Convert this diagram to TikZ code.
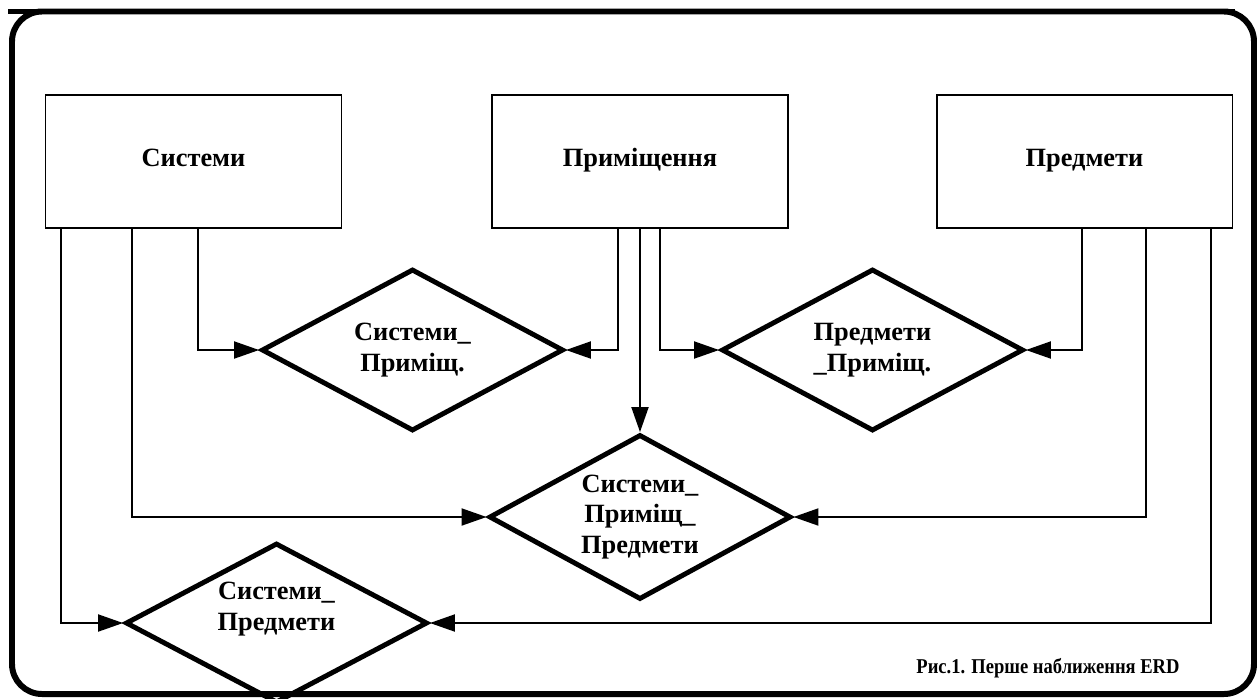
\documentclass[tikz,border=0pt]{standalone}
\usepackage{fontspec}
\setmainfont{Liberation Serif}
\newfontfamily\capfont[FakeStretch=0.88]{Liberation Serif}
\usetikzlibrary{shapes.geometric, arrows.meta}

\begin{document}
\begin{tikzpicture}[x=0.02cm, y=-0.02cm,
    entity/.style={draw, line width=1.1pt, inner sep=0pt,
      minimum width=5.92cm, minimum height=2.66cm,
      text height=10pt, text depth=3.8pt,
      font=\fontsize{15}{17}\selectfont\bfseries},
    rel/.style={draw, diamond, line width=2.8pt, inner sep=0pt,
      minimum width=6.04cm, minimum height=3.24cm},
    reltext/.style={align=center, font=\fontsize{15}{17.5}\selectfont\bfseries},
    conn/.style={line width=1.1pt, -{Triangle[length=0.5cm, width=0.34cm]}},
    frame/.style={line width=3.4pt}]
  %tikz  ERD, first draft
  \clip (0,0) rectangle (1259,698);
  \draw[frame, rounded corners=0.6cm] (12,11.5) rectangle (1254,694);
  \draw[frame] (8,11.5) -- (1235,11.5);

  \node[entity] (sys) at (193.5,161.5) {Системи};
  \node[entity] (room) at (640,161.5) {Приміщення};
  \node[entity] (subj) at (1084.5,161.5) {Предмети};

  \node[rel, label={[reltext]center:Системи\_\\Приміщ.}] (sr) at (412.5,350) {};
  \node[rel, label={[reltext]center:Предмети\\\_Приміщ.}] (pr) at (872.5,350) {};
  \node[rel, minimum height=3.3cm, label={[reltext]center:Системи\_\\Приміщ\_\\Предмети}] (srp) at (640,517) {};
  \node[rel, minimum height=3.2cm, label={[reltext, yshift=0.28cm]center:Системи\_\\Предмети}] (sp) at (276.5,623) {};

  \draw[conn] ([xshift=0.09cm]sys.south) |- (sr.west);
  \draw[conn] ([xshift=-1.23cm]sys.south) |- (srp.west);
  \draw[conn] ([xshift=-2.65cm]sys.south) |- (sp.west);
  \draw[conn] ([xshift=-0.44cm]room.south) |- (sr.east);
  \draw[conn] (room.south) -- (srp.north);
  \draw[conn] ([xshift=0.4cm]room.south) |- (pr.west);
  \draw[conn] ([xshift=-0.05cm]subj.south) |- (pr.east);
  \draw[conn] ([xshift=1.23cm]subj.south) |- (srp.east);
  \draw[conn] ([xshift=2.53cm]subj.south) |- (sp.east);

  \node[font=\capfont\fontsize{12}{14}\selectfont\bfseries, anchor=base] (cap) at (1048,673) {Рис.1. Перше наближення ERD};
\end{tikzpicture}
\end{document}
